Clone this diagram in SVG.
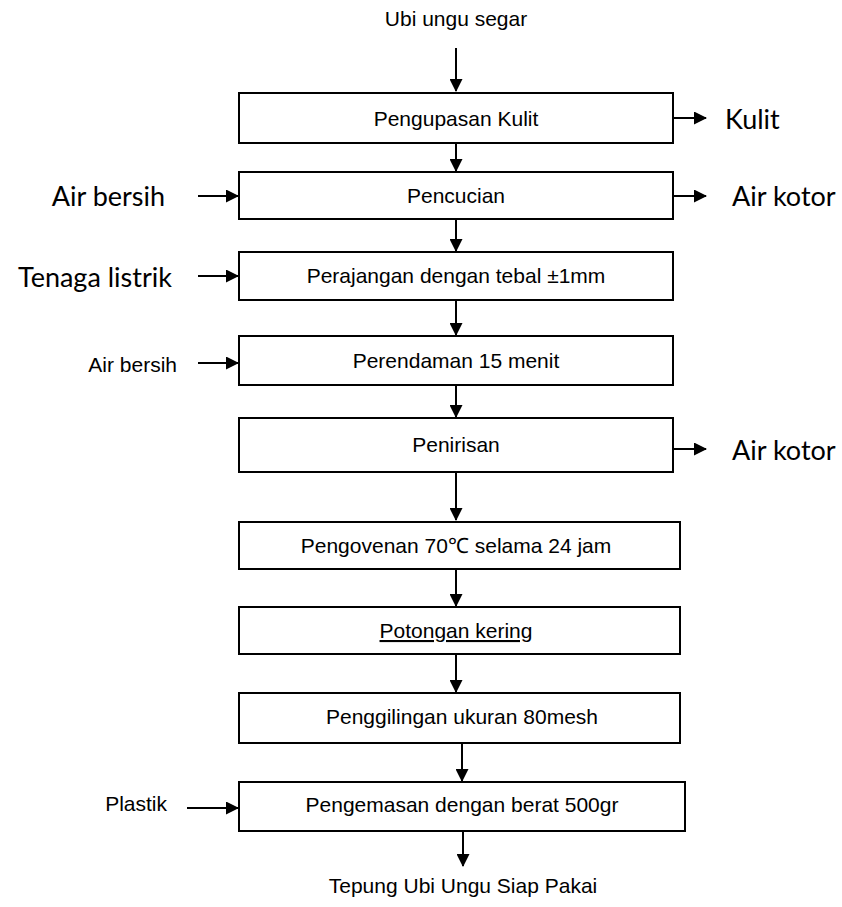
<svg xmlns="http://www.w3.org/2000/svg" width="842" height="907" viewBox="0 0 842 907">
<style>
.box{fill:#fff;stroke:#000;stroke-width:2}
.t{font-family:"Liberation Sans",Arial,sans-serif;font-size:21px;fill:#000;text-anchor:middle}
.l{font-family:"Liberation Sans",Arial,sans-serif;font-size:21px;fill:#000;text-anchor:end}
.c{font-family:Lato,"Open Sans",sans-serif;font-size:27px;fill:#000}
.cn{stroke:#000;stroke-width:2;fill:none;marker-end:url(#ah)}
</style>
<defs>
<marker id="ah" markerWidth="13" markerHeight="13" refX="12" refY="6.5" orient="auto" markerUnits="userSpaceOnUse">
<path d="M0,0 L13,6.5 L0,13 Z" fill="#000"/>
</marker>
</defs>
<g id="connectors">
<line class="cn" x1="456" y1="48" x2="456" y2="91"/>
<line class="cn" x1="456" y1="143" x2="456" y2="171"/>
<line class="cn" x1="673" y1="118" x2="706" y2="118"/>
<line class="cn" x1="198" y1="196" x2="238" y2="196"/>
<line class="cn" x1="673" y1="196" x2="706" y2="196"/>
<line class="cn" x1="456" y1="219" x2="456" y2="251"/>
<line class="cn" x1="198" y1="276" x2="238" y2="276"/>
<line class="cn" x1="456" y1="300" x2="456" y2="335"/>
<line class="cn" x1="198" y1="363" x2="238" y2="363"/>
<line class="cn" x1="456" y1="385" x2="456" y2="417"/>
<line class="cn" x1="673" y1="449" x2="706" y2="449"/>
<line class="cn" x1="456" y1="472" x2="456" y2="520"/>
<line class="cn" x1="456" y1="569" x2="456" y2="606"/>
<line class="cn" x1="456" y1="654" x2="456" y2="692"/>
<line class="cn" x1="462" y1="743" x2="462" y2="781"/>
<line class="cn" x1="187" y1="808" x2="238" y2="808"/>
<line class="cn" x1="463" y1="831" x2="463" y2="866"/>
</g>
<g id="start"><text class="t" x="456" y="26">Ubi ungu segar</text></g>
<g id="n1"><rect class="box" x="239" y="93" width="434" height="50"/><text class="t" x="456" y="126">Pengupasan Kulit</text></g>
<g id="o1"><text class="c" x="725" y="129">Kulit</text></g>
<g id="n2"><rect class="box" x="239" y="172" width="434" height="47"/><text class="t" x="456" y="203">Pencucian</text></g>
<g id="i2"><text class="c" x="165" y="206" text-anchor="end">Air bersih</text></g>
<g id="o2"><text class="c" x="732" y="206">Air kotor</text></g>
<g id="n3"><rect class="box" x="239" y="252" width="434" height="48"/><text class="t" x="456" y="283">Perajangan dengan tebal ±1mm</text></g>
<g id="i3"><text class="c" x="172" y="287" text-anchor="end">Tenaga listrik</text></g>
<g id="n4"><rect class="box" x="239" y="336" width="434" height="49"/><text class="t" x="456" y="368">Perendaman 15 menit</text></g>
<g id="i4"><text class="l" x="177" y="372">Air bersih</text></g>
<g id="n5"><rect class="box" x="239" y="418" width="434" height="54"/><text class="t" x="456" y="452">Penirisan</text></g>
<g id="o5"><text class="c" x="732" y="460">Air kotor</text></g>
<g id="n6"><rect class="box" x="239" y="522" width="441" height="47"/><text class="t" x="456" y="553">Pengovenan 70℃ selama 24 jam</text></g>
<g id="n7"><rect class="box" x="239" y="607" width="441" height="47"/><text class="t" x="456" y="638" text-decoration="underline">Potongan kering</text></g>
<g id="n8"><rect class="box" x="239" y="693" width="441" height="50"/><text class="t" x="462" y="724">Penggilingan ukuran 80mesh</text></g>
<g id="n9"><rect class="box" x="239" y="782" width="446" height="49"/><text class="t" x="462" y="812">Pengemasan dengan berat 500gr</text></g>
<g id="i9"><text class="l" x="167" y="811">Plastik</text></g>
<g id="end"><text class="t" x="463" y="893">Tepung Ubi Ungu Siap Pakai</text></g>
</svg>
